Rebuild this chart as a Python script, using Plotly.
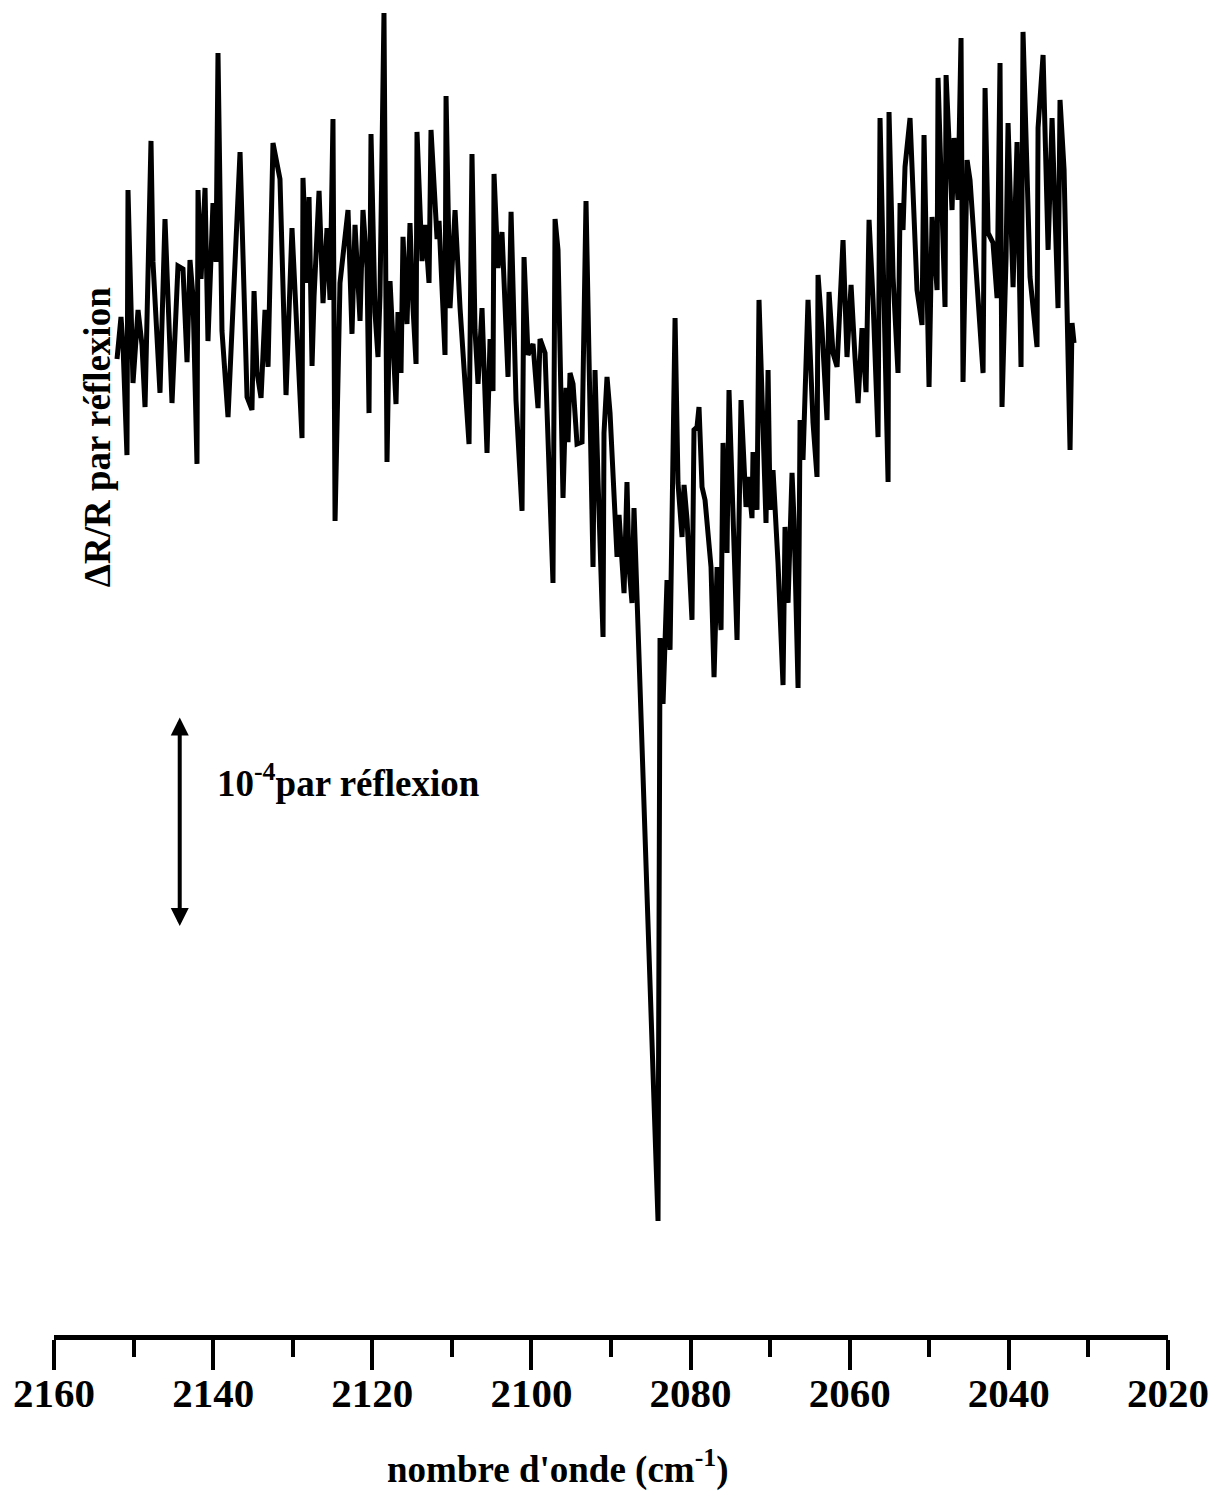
import plotly.graph_objects as go

# Wavenumber (cm-1) of each sampled point of the reflectance-difference spectrum
wavenumber = [
    2152.08, 2151.58, 2151.33, 2150.83, 2150.70, 2150.32, 2150.07, 2149.44, 2148.94, 2148.56,
    2147.81, 2147.56, 2146.68, 2146.05, 2145.17, 2144.42, 2143.79, 2143.28, 2142.91, 2142.53,
    2142.03, 2141.90, 2141.52, 2141.02, 2140.65, 2140.02, 2139.64, 2139.39, 2138.89, 2138.13,
    2136.62, 2135.74, 2135.12, 2134.86, 2134.49, 2133.98, 2133.48, 2133.10, 2132.48, 2131.60,
    2130.84, 2130.09, 2128.83, 2128.71, 2128.20, 2127.95, 2127.57, 2127.32, 2126.69, 2126.19,
    2125.69, 2125.31, 2124.94, 2124.68, 2124.06, 2123.05, 2122.55, 2122.17, 2121.54, 2121.17,
    2120.66, 2120.41, 2120.16, 2119.66, 2119.28, 2119.03, 2118.53, 2118.15, 2117.77, 2117.02,
    2116.77, 2116.39, 2116.14, 2115.64, 2115.26, 2114.88, 2114.50, 2114.38, 2113.75, 2113.37,
    2112.87, 2112.62, 2111.86, 2111.61, 2111.24, 2110.86, 2110.73, 2110.23, 2109.60, 2108.97,
    2107.84, 2107.47, 2107.09, 2106.71, 2106.21, 2105.58, 2105.20, 2104.83, 2104.70, 2104.20,
    2103.70, 2103.32, 2102.94, 2102.56, 2101.94, 2101.18, 2100.93, 2100.43, 2099.80, 2099.17,
    2098.92, 2098.29, 2097.29, 2097.03, 2096.66, 2096.03, 2095.65, 2095.40, 2095.15, 2094.77,
    2094.27, 2093.64, 2093.14, 2092.26, 2092.01, 2091.63, 2091.00, 2090.88, 2090.50, 2090.12,
    2089.24, 2088.99, 2088.61, 2088.36, 2087.99, 2087.73, 2087.36, 2087.11, 2084.09, 2083.84,
    2083.46, 2082.96, 2082.58, 2081.95, 2081.58, 2081.07, 2080.82, 2080.44, 2079.82, 2079.57,
    2079.19, 2078.94, 2078.56, 2078.18, 2077.43, 2077.05, 2076.67, 2076.17, 2075.92, 2075.42,
    2075.17, 2074.66, 2074.16, 2073.66, 2073.28, 2073.03, 2072.78, 2072.28, 2072.15, 2071.65,
    2071.40, 2070.89, 2070.52, 2070.26, 2070.01, 2069.64, 2069.01, 2068.38, 2068.13, 2067.75,
    2067.25, 2067.00, 2066.49, 2066.24, 2065.87, 2065.24, 2064.61, 2064.11, 2063.98, 2063.48,
    2062.85, 2062.60, 2062.10, 2061.59, 2060.84, 2060.34, 2059.83, 2059.33, 2058.95, 2058.45,
    2057.95, 2057.57, 2057.07, 2056.44, 2056.19, 2055.69, 2055.18, 2055.06, 2054.55, 2053.93,
    2053.67, 2053.30, 2053.05, 2052.42, 2051.54, 2050.91, 2050.66, 2050.03, 2049.65, 2049.02,
    2048.90, 2048.02, 2047.89, 2047.14, 2046.89, 2046.39, 2046.01, 2045.76, 2045.25, 2044.88,
    2044.00, 2043.24, 2042.99, 2042.61, 2041.99, 2041.48, 2041.11, 2040.86, 2040.35, 2040.10,
    2039.47, 2038.97, 2038.47, 2038.22, 2037.34, 2036.83, 2036.46, 2036.33, 2035.70, 2035.07,
    2034.57, 2033.82, 2033.57, 2033.06, 2032.31, 2032.06, 2031.81,
]

# Delta R / R per reflection, in units of 1e-4 (arbitrary offset)
delta_r = [
    4.648, 4.848, 4.714, 4.190, 5.452, 4.929, 4.533, 4.881, 4.714, 4.419,
    5.686, 5.110, 4.486, 5.314, 4.438, 5.090, 5.076, 4.633, 5.119, 4.943,
    4.148, 5.452, 5.029, 5.462, 4.733, 5.390, 5.110, 6.105, 4.781, 4.371,
    5.633, 4.467, 4.405, 4.971, 4.586, 4.462, 4.881, 4.610, 5.676, 5.505,
    4.476, 5.271, 4.271, 5.510, 5.010, 5.419, 4.614, 4.943, 5.448, 4.914,
    5.271, 4.929, 5.790, 3.876, 5.010, 5.357, 4.767, 5.286, 4.829, 5.357,
    5.081, 4.390, 5.719, 4.871, 4.657, 4.952, 6.295, 4.157, 5.019, 4.433,
    4.871, 4.581, 5.229, 4.814, 5.295, 4.890, 4.624, 5.729, 5.114, 5.286,
    5.010, 5.738, 5.219, 5.305, 4.910, 4.667, 5.900, 4.890, 5.357, 4.890,
    4.243, 5.624, 4.786, 4.529, 4.890, 4.200, 4.743, 4.495, 5.529, 5.081,
    5.252, 4.952, 4.562, 5.348, 4.452, 3.924, 5.133, 4.667, 4.719, 4.414,
    4.743, 4.676, 3.581, 5.314, 5.167, 3.986, 4.510, 4.252, 4.581, 4.529,
    4.243, 4.252, 5.400, 3.657, 4.595, 4.071, 3.324, 4.295, 4.562, 4.390,
    3.705, 3.905, 3.705, 3.533, 4.062, 3.657, 3.486, 3.938, 0.543, 3.319,
    3.005, 3.595, 3.262, 4.843, 4.057, 3.800, 4.048, 3.881, 3.405, 4.310,
    4.324, 4.419, 4.038, 3.976, 3.657, 3.133, 3.657, 3.357, 4.248, 3.724,
    4.500, 3.914, 3.310, 4.452, 4.105, 3.943, 4.086, 3.890, 4.205, 3.929,
    4.929, 4.390, 3.867, 4.595, 3.929, 4.119, 3.676, 3.095, 3.848, 3.486,
    4.105, 3.881, 3.081, 4.357, 4.167, 4.929, 4.343, 4.086, 5.048, 4.786,
    4.357, 4.967, 4.676, 4.610, 5.214, 4.657, 5.000, 4.652, 4.438, 4.795,
    4.490, 5.310, 4.929, 4.276, 5.795, 4.929, 4.062, 5.824, 5.038, 4.581,
    5.390, 5.262, 5.562, 5.795, 4.976, 4.810, 5.714, 4.514, 5.324, 4.976,
    5.986, 4.895, 6.000, 5.357, 5.700, 5.405, 6.176, 4.538, 5.595, 5.500,
    5.038, 4.581, 5.938, 5.248, 5.200, 4.938, 6.057, 4.419, 5.133, 5.771,
    4.990, 5.681, 4.610, 6.205, 5.038, 4.819, 4.705, 5.748, 6.095, 5.167,
    5.795, 4.890, 5.881, 5.548, 4.214, 4.819, 4.724,
]

# Vertical scale bar: 1e-4 per reflection
scale_x = 2144.2
scale_bottom = 1.94
scale_length = 1.0

x_ticks = [2160, 2140, 2120, 2100, 2080, 2060, 2040, 2020]

FONT = "Liberation Serif"

fig = go.Figure()
fig.add_trace(go.Scatter(
    x=wavenumber,
    y=delta_r,
    mode="lines",
    line=dict(color="black", width=5),
    hoverinfo="skip",
    showlegend=False,
))

# Double-headed scale arrow
fig.add_annotation(
    x=scale_x, y=scale_bottom + scale_length,
    ax=scale_x, ay=scale_bottom,
    xref="x", yref="y", axref="x", ayref="y",
    text="", showarrow=True,
    arrowhead=2, startarrowhead=2, arrowside="end+start",
    arrowsize=0.9, startarrowsize=0.9, arrowwidth=4,
    arrowcolor="black", standoff=0, startstandoff=0,
)
fig.add_annotation(
    x=2139.8, y=scale_bottom + 0.70,
    xref="x", yref="y",
    text="10<sup>-4</sup>par réflexion",
    showarrow=False, xanchor="left", yanchor="middle",
    font=dict(family=FONT, size=37, color="black", weight="bold"),
)

# Vertical axis caption
fig.add_annotation(
    x=0.0386, y=0.675, xref="paper", yref="paper",
    text="ΔR/R par réflexion", textangle=-90,
    showarrow=False, xanchor="center", yanchor="middle",
    font=dict(family=FONT, size=37, color="black", weight="bold"),
)

# Horizontal axis caption
fig.add_annotation(
    x=0.4524, y=-0.099, xref="paper", yref="paper",
    text="nombre d'onde (cm<sup>-1</sup>)",
    showarrow=False, xanchor="center", yanchor="middle",
    font=dict(family=FONT, size=37, color="black", weight="bold"),
)

fig.update_xaxes(
    range=[2160, 2020],
    tickmode="array", tickvals=x_ticks, ticktext=[str(t) for t in x_ticks],
    ticks="outside", ticklen=30, tickwidth=4, tickcolor="black",
    minor=dict(ticks="outside", ticklen=17, tickwidth=4, tickcolor="black",
               tickmode="linear", tick0=2020, dtick=10),
    showline=True, linewidth=5, linecolor="black",
    showgrid=False, zeroline=False,
    tickfont=dict(family=FONT, size=41, color="black", weight="bold"),
    ticklabelstandoff=-12,
)
fig.update_yaxes(range=[0, 6.3333], visible=False, showgrid=False, zeroline=False)

fig.update_layout(
    width=1222, height=1498,
    margin=dict(l=54, r=54, t=5, b=163),
    plot_bgcolor="white", paper_bgcolor="white",
)

fig.write_html("out.html")
